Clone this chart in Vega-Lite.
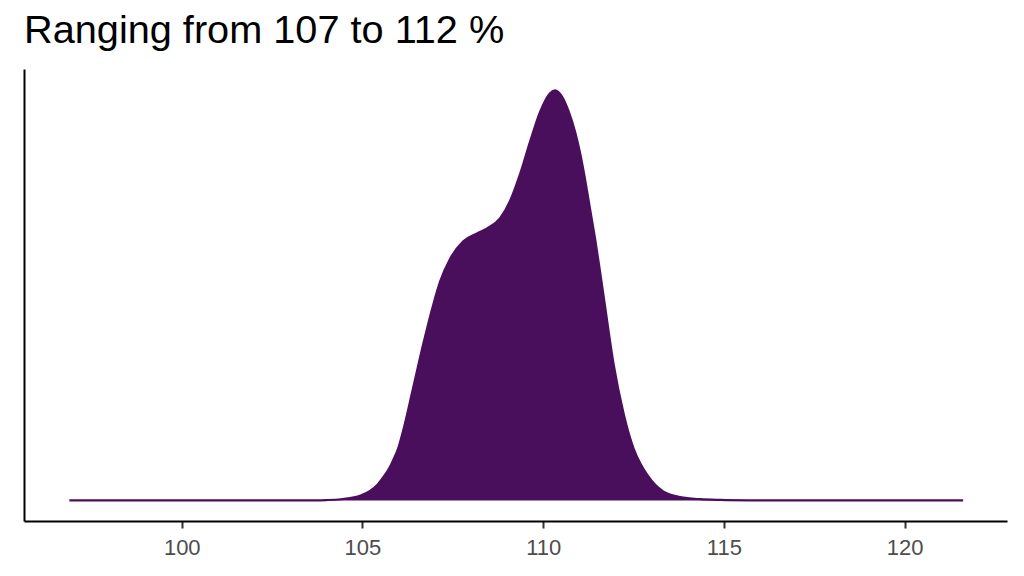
{
  "$schema": "https://vega.github.io/schema/vega-lite/v6.json",
  "autosize": {"type": "none"},
  "padding": {"left": 24, "top": 69, "right": 17, "bottom": 55},
  "width": 983,
  "height": 452,
  "background": "white",
  "config": {
    "view": {"stroke": "transparent"},
    "font": "Liberation Sans"
  },
  "title": {
    "text": "Ranging from 107 to 112 %",
    "anchor": "start",
    "frame": "group",
    "font": "Liberation Sans",
    "fontSize": 39.7,
    "fontWeight": "normal",
    "color": "black",
    "baseline": "alphabetic",
    "offset": 24,
    "dy": 38
  },
  "data": {
    "values": [
      {"x": 96.89, "density": 0},
      {"x": 98, "density": 0},
      {"x": 100, "density": 0},
      {"x": 102, "density": 0},
      {"x": 103, "density": 0},
      {"x": 103.6, "density": 0.0003},
      {"x": 104.0, "density": 0.001},
      {"x": 104.4, "density": 0.003},
      {"x": 104.66, "density": 0.006},
      {"x": 104.95, "density": 0.012},
      {"x": 105.21, "density": 0.023},
      {"x": 105.4, "density": 0.037},
      {"x": 105.57, "density": 0.056},
      {"x": 105.72, "density": 0.075},
      {"x": 105.85, "density": 0.098},
      {"x": 106.0, "density": 0.13},
      {"x": 106.12, "density": 0.168},
      {"x": 106.4, "density": 0.273},
      {"x": 106.68, "density": 0.38},
      {"x": 106.96, "density": 0.477},
      {"x": 107.15, "density": 0.533},
      {"x": 107.43, "density": 0.589},
      {"x": 107.79, "density": 0.631},
      {"x": 108.17, "density": 0.65},
      {"x": 108.45, "density": 0.662},
      {"x": 108.81, "density": 0.687},
      {"x": 109.08, "density": 0.728},
      {"x": 109.36, "density": 0.794},
      {"x": 109.64, "density": 0.874},
      {"x": 109.92, "density": 0.947},
      {"x": 110.19, "density": 0.991},
      {"x": 110.33, "density": 0.998},
      {"x": 110.52, "density": 0.983},
      {"x": 110.7, "density": 0.948},
      {"x": 110.89, "density": 0.895},
      {"x": 111.02, "density": 0.846},
      {"x": 111.16, "density": 0.781},
      {"x": 111.3, "density": 0.708},
      {"x": 111.44, "density": 0.635},
      {"x": 111.58, "density": 0.553},
      {"x": 111.7, "density": 0.48},
      {"x": 111.95, "density": 0.331},
      {"x": 112.23, "density": 0.21},
      {"x": 112.5, "density": 0.127},
      {"x": 112.7, "density": 0.088},
      {"x": 112.89, "density": 0.061},
      {"x": 113.1, "density": 0.038},
      {"x": 113.32, "density": 0.022},
      {"x": 113.55, "density": 0.013},
      {"x": 113.79, "density": 0.008},
      {"x": 114.35, "density": 0.003},
      {"x": 114.9, "density": 0.0012},
      {"x": 115.7, "density": 0.0002},
      {"x": 116.5, "density": 0},
      {"x": 118, "density": 0},
      {"x": 120, "density": 0},
      {"x": 121.62, "density": 0}
    ]
  },
  "mark": {
    "type": "area",
    "interpolate": "monotone",
    "color": "#4a0f5c",
    "opacity": 1,
    "fillOpacity": 1,
    "line": {"stroke": "#4a0f5c", "strokeWidth": 2.2}
  },
  "encoding": {
    "x": {
      "field": "x",
      "type": "quantitative",
      "scale": {"domain": [95.635, 122.834], "nice": false, "zero": false},
      "axis": {
        "title": null,
        "values": [100, 105, 110, 115, 120],
        "grid": false,
        "domainColor": "black",
        "domainWidth": 2,
        "tickColor": "#333333",
        "tickWidth": 2,
        "tickSize": 7,
        "labelFont": "Liberation Sans",
        "labelFontSize": 22,
        "labelColor": "#4d4d4d",
        "labelBaseline": "alphabetic",
        "labelPadding": 26.5
      }
    },
    "y": {
      "field": "density",
      "type": "quantitative",
      "scale": {"domain": [-0.05, 1.05], "nice": false, "zero": false},
      "axis": {
        "title": null,
        "grid": false,
        "ticks": false,
        "labels": false,
        "domainColor": "black",
        "domainWidth": 2
      }
    }
  }
}
